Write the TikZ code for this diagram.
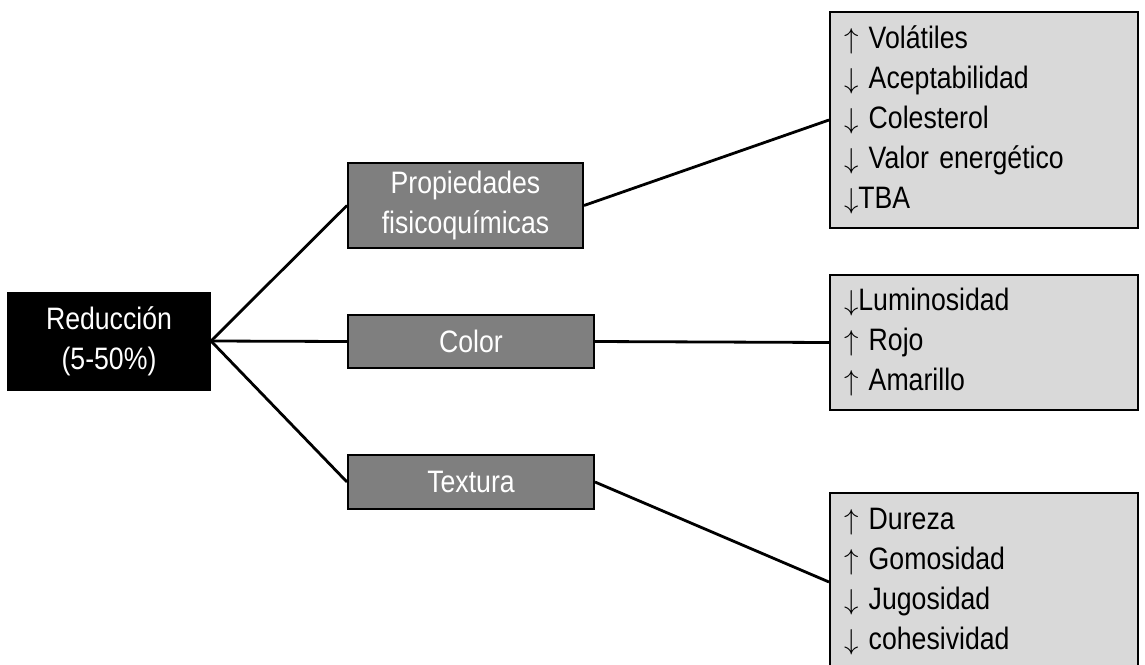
\documentclass[tikz,border=0pt]{standalone}
\usepackage{fontspec}
\setmainfont{Liberation Sans}[FakeStretch=0.86]
\usetikzlibrary{positioning}

\definecolor{darkbox}{HTML}{7F7F7F}
\definecolor{lightbox}{HTML}{D9D9D9}

% tall thin arrows as in the list boxes
\newcommand{\incr}{$\uparrow$}
\newcommand{\decr}{$\downarrow$}

\tikzset{
    rootbox/.style={draw=black, fill=black, text=white, line width=1pt,
        minimum width=101pt, minimum height=48.5pt, align=center},
    groupbox/.style={draw=black, fill=darkbox, text=white, line width=1pt,
        minimum width=123pt, align=center},
    listbox/.style={draw=black, fill=lightbox, line width=1pt,
        inner xsep=7pt, text width=140pt, align=left},
    branch/.style={line width=1.4pt}
}

\begin{document}
\begin{tikzpicture}[x=0.5pt, y=-0.5pt,
    every node/.style={font=\fontsize{15.5}{20}\selectfont}]
    \useasboundingbox (0,0) rectangle (1145,664);

    % Root
    \node[rootbox] (red) at (109,341) {Reducción\\(5-50\%)};

    % Groups
    \node[groupbox, minimum width=117.5pt, minimum height=42.5pt] (prop) at (465.5,205.5)
        {Propiedades\\fisicoquímicas};
    \node[groupbox, minimum height=26.5pt] (col) at (471,341.5) {Color};
    \node[groupbox, minimum height=27pt] (tex) at (471,482) {Textura};

    % Lists
    \node[listbox, minimum height=108pt] (lprop) at (984,120)
        {\incr{} Volátiles\\\decr{} Aceptabilidad\\\decr{} Colesterol\\\decr{} Valor energético\\\decr{}TBA};
    \node[listbox, minimum height=67.5pt] (lcol) at (984,342.5)
        {\decr{}Luminosidad\\\incr{} Rojo\\\incr{} Amarillo};
    \node[listbox, minimum height=89pt] (ltex) at (984,582)
        {\incr{} Dureza\\\incr{} Gomosidad\\\decr{} Jugosidad\\\decr{} cohesividad};

    % Lines
    \draw[branch] (red.east) -- (prop.west);
    \draw[branch] (red.east) -- (col.west);
    \draw[branch] (red.east) -- (tex.west);
    \draw[branch] (prop.east) -- (lprop.west);
    \draw[branch] (col.east) -- (lcol.west);
    \draw[branch] (tex.east) -- (ltex.west);
\end{tikzpicture}
\end{document}
